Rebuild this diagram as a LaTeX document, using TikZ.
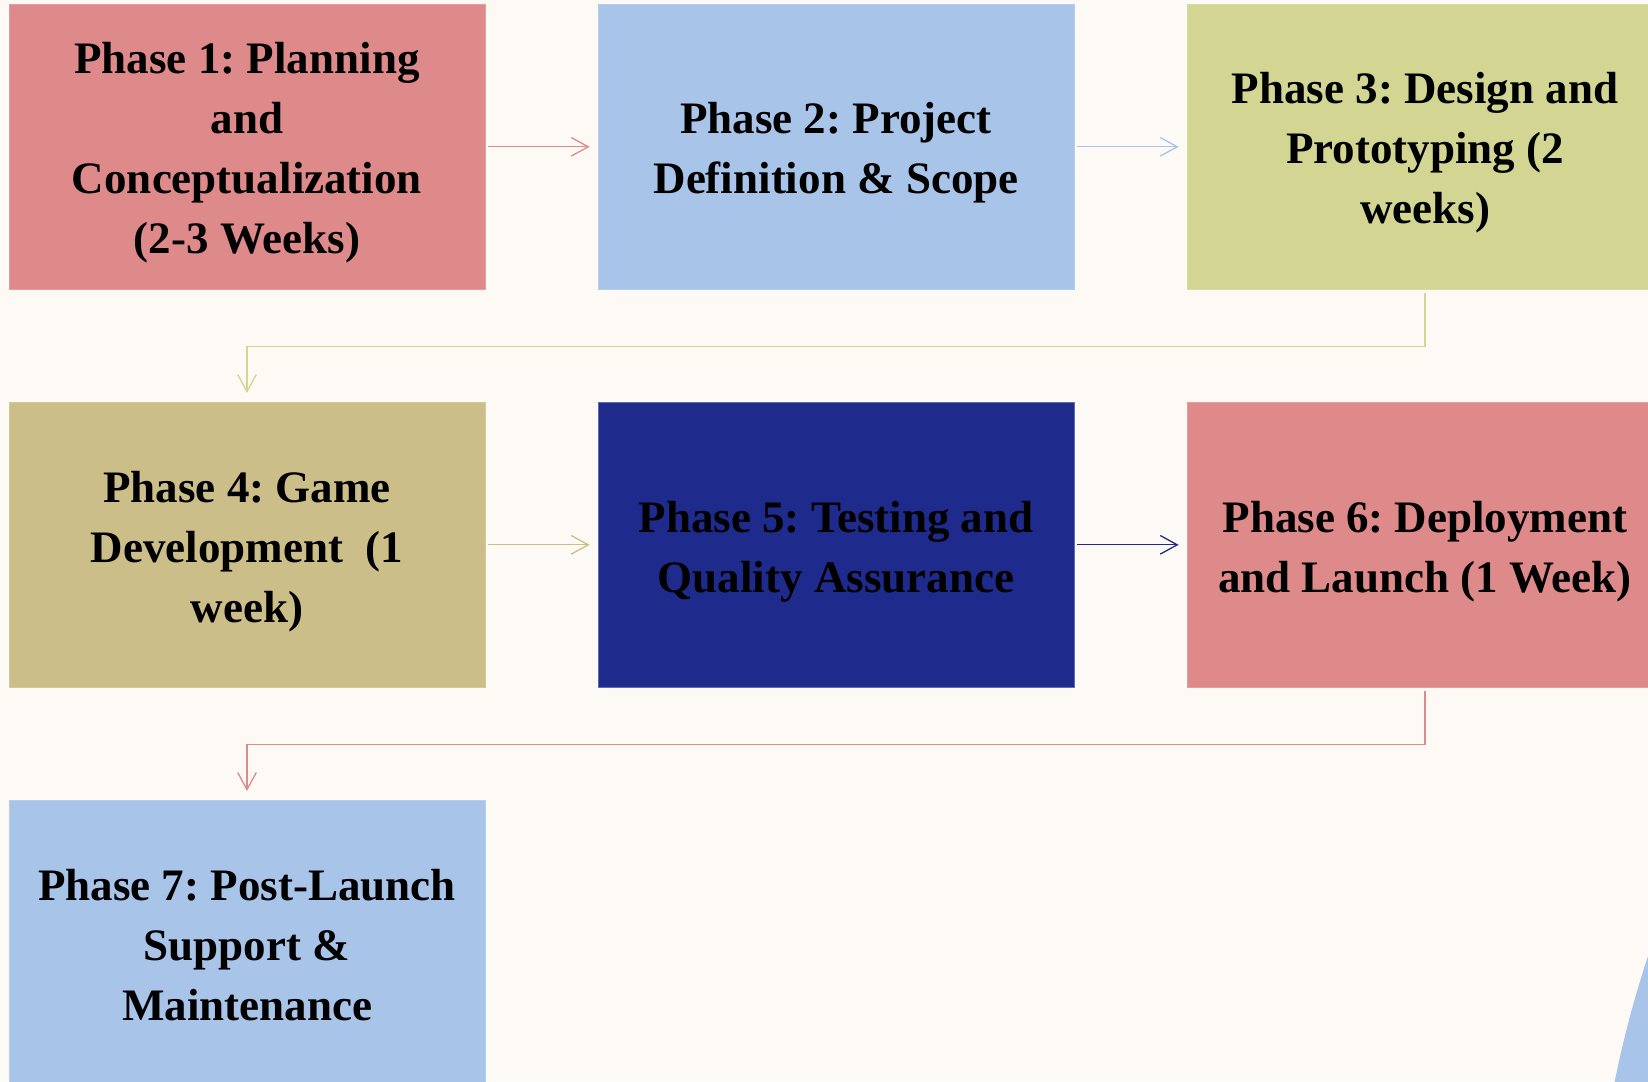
\documentclass[tikz,border=0pt]{standalone}
\usepackage{fontspec}
\setmainfont{Liberation Serif}
\usetikzlibrary{arrows.meta}
\definecolor{bgc}{HTML}{FDF9F4}
\definecolor{redc}{HTML}{DF8A8A}
\definecolor{bluec}{HTML}{A9C4E9}
\definecolor{greenc}{HTML}{D3D592}
\definecolor{khakic}{HTML}{CBBE88}
\definecolor{navyc}{HTML}{1E2B8C}
\newcommand\phasetext[1]{\raisebox{-2.6pt}[\height][\depth]{\begin{tabular}{@{}c@{}}#1\end{tabular}}}
\tikzset{
  phasebox/.style={rectangle, minimum width=238pt, minimum height=142.5pt, inner sep=0pt,
    align=center, text=black, font=\fontsize{22.5}{30}\selectfont\bfseries\frenchspacing},
  conn/.style={line width=0.65pt, -{Straight Barb[length=8.5pt,width=9.3pt]}},
}
\begin{document}
\begin{tikzpicture}[x=0.5pt,y=-0.5pt]
\useasboundingbox (0,0) rectangle (1648,1081);
\clip (0,0) rectangle (1648,1081);
\fill[bgc] (0,0) rectangle (1648,1081);
\fill[bluec] (2684,1299) circle (1091);
\node[phasebox, fill=redc, draw=redc!85!white] (b1) at (247,146.8) {\phasetext{Phase 1: Planning\\and\\Conceptualization\\(2-3 Weeks)}};
\node[phasebox, fill=bluec, draw=bluec!85!white] (b2) at (836,146.8) {\phasetext{Phase 2: Project\\Definition \& Scope}};
\node[phasebox, fill=greenc, draw=greenc!85!white] (b3) at (1425,146.8) {\phasetext{Phase 3: Design and\\Prototyping (2\\weeks)}};
\node[phasebox, fill=khakic, draw=khakic!85!white] (b4) at (247,544.8) {\phasetext{Phase 4: Game\\Development~~(1\\week)}};
\node[phasebox, fill=navyc, draw=navyc!70!white] (b5) at (836,544.8) {\phasetext{Phase 5: Testing and\\Quality Assurance}};
\node[phasebox, fill=redc, draw=redc!85!white] (b6) at (1425,544.8) {\phasetext{Phase 6: Deployment\\and Launch (1 Week)}};
\node[phasebox, fill=bluec, draw=bluec!85!white] (b7) at (247,942.8) {\phasetext{Phase 7: Post-Launch\\Support \&\\Maintenance}};
\draw[conn, redc] ([xshift=1.5pt]b1.east) -- ([xshift=-4pt]b2.west);
\draw[conn, bluec] ([xshift=1.5pt]b2.east) -- ([xshift=-4pt]b3.west);
\draw[conn, greenc] ([yshift=-1.5pt]b3.south) -- ++(0,54) -| ([yshift=4.5pt]b4.north);
\draw[conn, khakic] ([xshift=1.5pt]b4.east) -- ([xshift=-4pt]b5.west);
\draw[conn, navyc] ([xshift=1.5pt]b5.east) -- ([xshift=-4pt]b6.west);
\draw[conn, redc] ([yshift=-1.5pt]b6.south) -- ++(0,54) -| ([yshift=4.5pt]b7.north);
\end{tikzpicture}
\end{document}
